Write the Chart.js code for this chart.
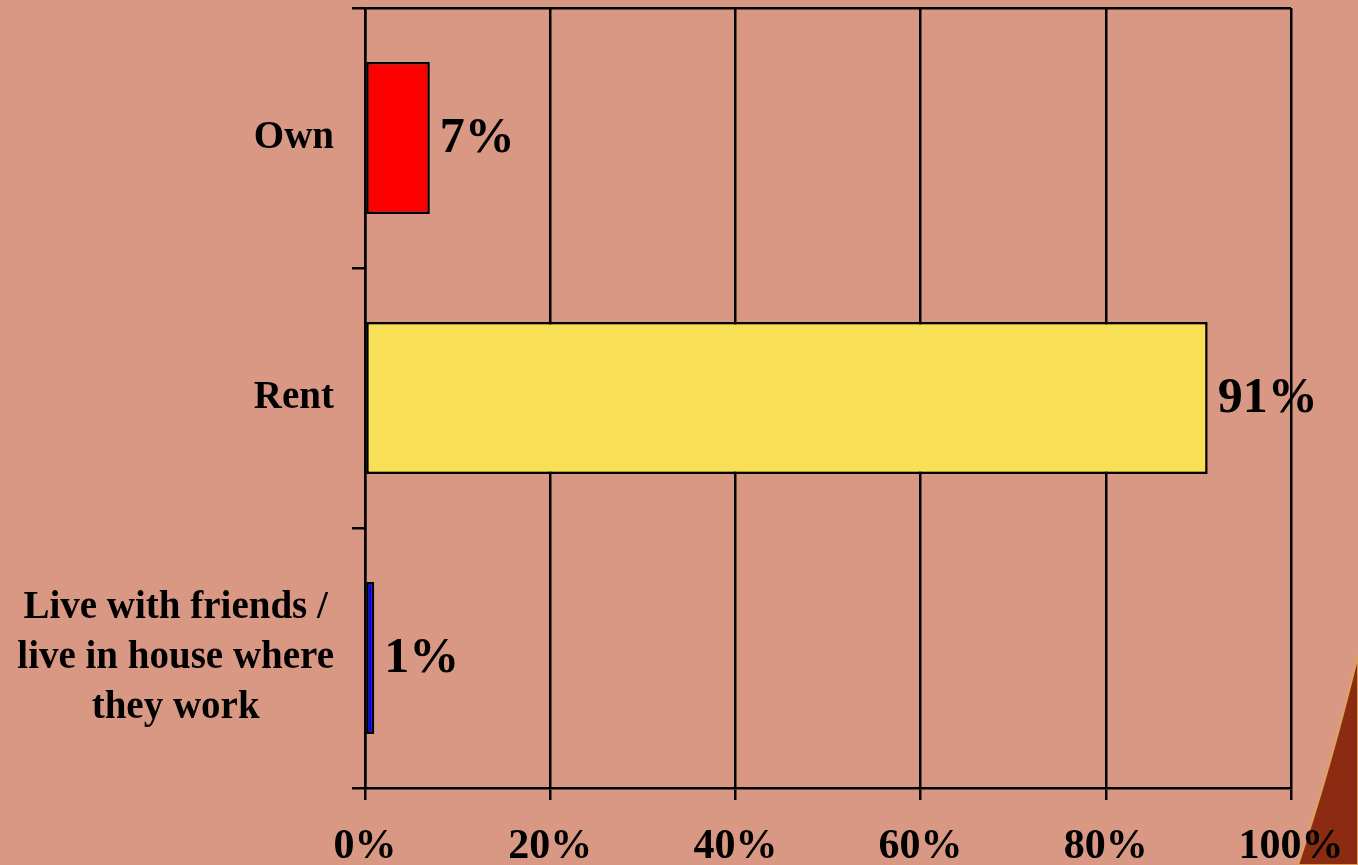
<!DOCTYPE html>
<html>
<head>
<meta charset="utf-8">
<script src="https://cdn.jsdelivr.net/npm/chart.js@4"></script>
<style>
  body { margin: 0; background: #D99883; overflow: hidden; }
  #wrap { position: relative; width: 1358px; height: 865px; }
  #swoosh { position: absolute; left: 0; top: 0; }
  #myChart { position: absolute; left: 0; top: 0; }
</style>
</head>
<body>
<div id="wrap">
  <svg id="swoosh" width="1358" height="865">
    <path d="M1358,655 Q1330,770 1298,865 L1358,865 Z" fill="#8B2C12" stroke="#E0A060" stroke-width="2"/>
  </svg>
  <canvas id="myChart" width="1358" height="865"></canvas>
</div>

<script>

var categories = [
    ['Own'],
    ['Rent'],
    ['Live with friends /', 'live in house where', 'they work']
];
var shares = [7, 91, 1];
var barColours = ['#FF0000', '#F9DF55', '#0000FF'];
var tickStep = 20;
var tickMax = 100;

// category names and value labels, drawn next to the axis / bar ends
var textPlugin = {
    id: 'textPlugin',
    afterDraw: function (chart) {
        var ctx = chart.ctx;
        var yScale = chart.scales.y;
        var meta = chart.getDatasetMeta(0);
        ctx.save();
        ctx.fillStyle = '#000';
        ctx.textBaseline = 'middle';

        ctx.font = 'bold 39px "Liberation Serif"';
        ctx.textAlign = 'center';
        var rightEdge = yScale.right - 31;
        for (var i = 0; i < categories.length; i++) {
            var lines = categories[i];
            var cy = yScale.getPixelForValue(i);
            var widest = 0;
            lines.forEach(function (l) { widest = Math.max(widest, ctx.measureText(l).width); });
            var cx = rightEdge - widest / 2;
            for (var j = 0; j < lines.length; j++) {
                ctx.fillText(lines[j], cx, cy + (j - (lines.length - 1) / 2) * 50);
            }
        }

        ctx.font = 'bold 50px "Liberation Serif"';
        ctx.textAlign = 'left';
        meta.data.forEach(function (bar, i) {
            ctx.fillText(shares[i] + '%', bar.x + 10, bar.y + 1);
        });
        ctx.restore();
    }
};

function createChart() {
    var ctx = document.getElementById('myChart').getContext('2d');
    new Chart(ctx, {
        type: 'bar',
        data: {
            labels: categories,
            datasets: [{
                data: shares,
                backgroundColor: barColours,
                borderColor: '#000',
                borderWidth: 2.5,
                borderSkipped: false,
                barPercentage: 0.585,
                categoryPercentage: 1
            }]
        },
        options: {
            indexAxis: 'y',
            responsive: false,
            animation: false,
            layout: { padding: { top: 8, right: 67, left: 0, bottom: 0 } },
            plugins: {
                legend: { display: false },
                tooltip: { enabled: false }
            },
            scales: {
                x: {
                    min: 0,
                    max: tickMax,
                    afterFit: function (scale) {
                        scale.height = 77;
                        scale.paddingLeft = 0;
                        scale.paddingRight = 0;
                    },
                    ticks: {
                        stepSize: tickStep,
                        color: '#000',
                        padding: 22,
                        maxRotation: 0,
                        font: { family: 'Liberation Serif', weight: 'bold', size: 42 },
                        callback: function (v) { return v + '%'; }
                    },
                    grid: { color: '#000', lineWidth: 2.5, tickLength: 12 },
                    border: { color: '#000', width: 2.5 }
                },
                y: {
                    afterFit: function (scale) { scale.width = 365; },
                    ticks: { display: false },
                    grid: {
                        offset: true,
                        lineWidth: 2.5,
                        tickLength: 13,
                        tickColor: '#000',
                        color: function (c) { return c.index === 0 ? '#000' : 'rgba(0,0,0,0)'; }
                    },
                    border: { color: '#000', width: 2.5 }
                }
            }
        },
        plugins: [textPlugin]
    });
}
createChart();

</script>
</body>
</html>
